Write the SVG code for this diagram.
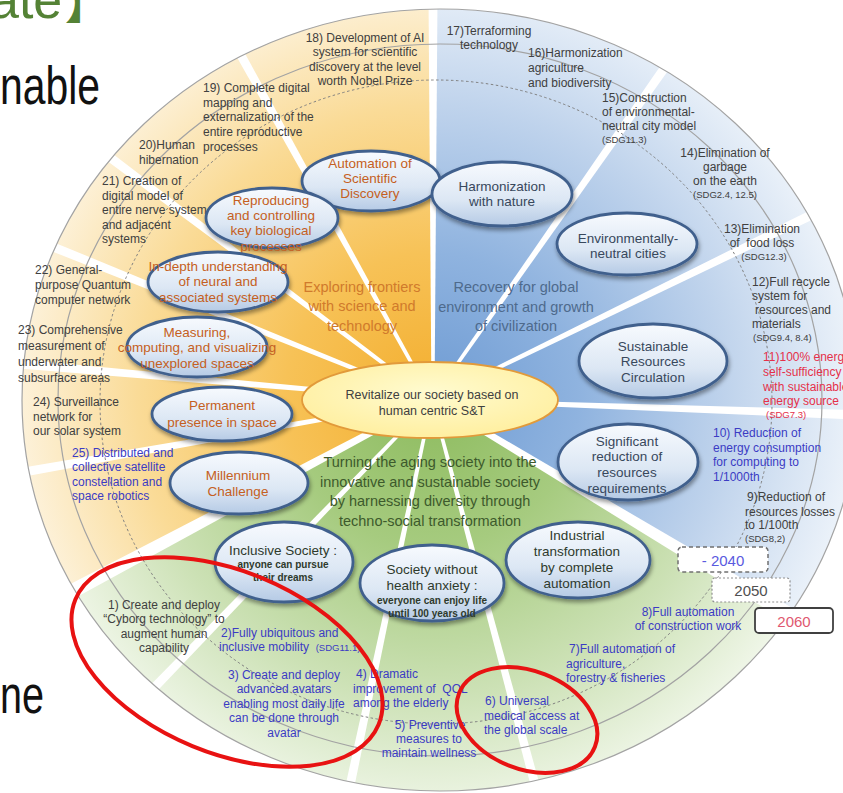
<svg xmlns="http://www.w3.org/2000/svg" width="843" height="793" viewBox="0 0 843 793">
<defs>
<style>
text{font-family:"Liberation Sans",Arial,sans-serif;}
.it{font-size:12px;fill:#404040;}
.bl{font-size:12px;fill:#3B3BC4;}
.rd{font-size:12px;fill:#E5304A;}
.sdg{font-size:9.5px;}
.c{text-anchor:middle;}
.nd{fill:url(#nodeGrad);stroke:#41608D;stroke-width:2.8;filter:url(#sh);}
.ny{font-size:13.5px;fill:#C55F22;text-anchor:middle;}
.nb{font-size:13.5px;fill:#38485C;text-anchor:middle;}
.ng{font-size:13.5px;fill:#2E3A2C;text-anchor:middle;}
.ns{font-size:10px;font-weight:bold;fill:#2E3A2C;text-anchor:middle;}
.lab{font-size:14.5px;text-anchor:middle;}
.ring{fill:none;stroke:#A3A3A3;stroke-width:1.2;}
.ray{fill:#FFFFFF;}
.redmark{fill:none;stroke:#E81212;stroke-width:4;}
.big{font-size:54px;fill:#111;}
</style>
<radialGradient id="gY" gradientUnits="userSpaceOnUse" cx="432" cy="400" r="420">
<stop offset="0" stop-color="#F3AE2E"/><stop offset="0.35" stop-color="#F7C257"/><stop offset="0.7" stop-color="#FADB97"/><stop offset="1" stop-color="#FDF3DE"/>
</radialGradient>
<radialGradient id="gB" gradientUnits="userSpaceOnUse" cx="432" cy="400" r="420">
<stop offset="0" stop-color="#6E9BD3"/><stop offset="0.35" stop-color="#8FB3DF"/><stop offset="0.7" stop-color="#BFD3EC"/><stop offset="1" stop-color="#EAF1F9"/>
</radialGradient>
<radialGradient id="gG" gradientUnits="userSpaceOnUse" cx="432" cy="400" r="420">
<stop offset="0" stop-color="#8DBB5E"/><stop offset="0.35" stop-color="#A6CB7F"/><stop offset="0.7" stop-color="#CCE1B5"/><stop offset="1" stop-color="#F1F7EA"/>
</radialGradient>
<linearGradient id="nodeGrad" x1="0" y1="0" x2="0" y2="1">
<stop offset="0" stop-color="#F7FAFE"/><stop offset="0.6" stop-color="#DCE7F4"/><stop offset="1" stop-color="#B5CAE5"/>
</linearGradient>
<radialGradient id="cGrad" cx="0.5" cy="0.4" r="0.6">
<stop offset="0" stop-color="#FFFBD0"/><stop offset="1" stop-color="#FFEFA0"/>
</radialGradient>
<filter id="sh" x="-20%" y="-20%" width="140%" height="170%">
<feDropShadow dx="1" dy="3" stdDeviation="2" flood-color="#000" flood-opacity="0.4"/>
</filter>
<clipPath id="outerClip"><ellipse cx="440" cy="400" rx="418" ry="391"/></clipPath>
<polygon id="ray" points="0,-1.5 470,-5 470,5 0,1.5"/>
<polygon id="rayW" points="0,-2.5 470,-8 470,8 0,2.5"/>
</defs>

<rect width="843" height="793" fill="#FFFFFF"/>

<!-- slide remnants -->
<g id="slide-text">
<text x="-10" y="18" style="font-size:52px;fill:#548235">ate</text>
<text x="65" y="19" style="font-size:44px;font-weight:bold;fill:#548235;font-family:'Noto Sans CJK JP','Liberation Sans',sans-serif">】</text>
<text class="big" x="0" y="104" textLength="100" lengthAdjust="spacingAndGlyphs">nable</text>
<text class="big" x="0" y="713" textLength="44" lengthAdjust="spacingAndGlyphs">ne</text>
</g>

<!-- sectors -->
<g id="sectors" clip-path="url(#outerClip)">
<path fill="url(#gB)" d="M432,400 L432,-60 A460,460 0 0,1 826.3,636.9 Z"/>
<path fill="url(#gG)" d="M432,400 L826.3,636.9 A460,460 0 0,1 25.9,616 Z"/>
<path fill="url(#gY)" d="M432,400 L25.9,616 A460,460 0 0,1 432,-60 Z"/>
</g>

<!-- separators -->
<g id="connectors" clip-path="url(#outerClip)">
<use href="#ray" class="ray" transform="translate(433,400) rotate(-90)"/>
<use href="#ray" class="ray" transform="translate(432,400) rotate(-119)"/>
<use href="#ray" class="ray" transform="translate(432,400) rotate(-143)"/>
<use href="#ray" class="ray" transform="translate(432,400) rotate(-158)"/>
<use href="#ray" class="ray" transform="translate(432,400) rotate(-175)"/>
<use href="#ray" class="ray" transform="translate(432,400) rotate(170)"/>
<use href="#rayW" class="ray" transform="translate(432,400) rotate(152)"/>
<use href="#ray" class="ray" transform="translate(432,400) rotate(-55)"/>
<use href="#ray" class="ray" transform="translate(432,400) rotate(-26)"/>
<use href="#ray" class="ray" transform="translate(432,400) rotate(2)"/>
<use href="#rayW" class="ray" transform="translate(432,400) rotate(31)"/>
<use href="#ray" class="ray" transform="translate(432,400) rotate(75)"/>
<use href="#ray" class="ray" transform="translate(432,400) rotate(102)"/>
<use href="#ray" class="ray" transform="translate(432,400) rotate(134)"/>
</g>

<!-- rings -->
<g id="rings">
<ellipse class="ring" cx="440" cy="400" rx="418" ry="391"/>
<ellipse class="ring" cx="440" cy="400" rx="382" ry="356"/>
<ellipse class="ring" cx="436" cy="402" rx="336" ry="322" style="stroke:#808080;stroke-width:1;stroke-dasharray:2.5,2.5"/>
</g>

<!-- sector labels -->
<g id="label-yellow"><text class="lab" x="362" y="292" fill="#D07A2C">Exploring frontiers<tspan x="362" dy="19">with science and</tspan><tspan x="362" dy="19.5">technology</tspan></text></g>
<g id="label-blue"><text class="lab" x="516" y="292" fill="#4E6A8C">Recovery for global<tspan x="516" dy="19.5">environment and growth</tspan><tspan x="516" dy="19.5">of civilization</tspan></text></g>
<g id="label-green"><text class="lab" x="430" y="467" fill="#3D5A2C">Turning the aging society into the<tspan x="430" dy="19.5">innovative and sustainable society</tspan><tspan x="430" dy="19.5">by harnessing diversity through</tspan><tspan x="430" dy="19.5">techno-social transformation</tspan></text></g>

<!-- outer items -->
<g id="item18"><text class="it c" x="365" y="42">18) Development of AI<tspan x="365" dy="14.3">system for scientific</tspan><tspan x="365" dy="14.3">discovery at the level</tspan><tspan x="365" dy="14.3">worth Nobel Prize</tspan></text></g>
<g id="item19"><text class="it" x="203" y="92">19) Complete digital<tspan x="203" dy="14.7">mapping and</tspan><tspan x="203" dy="14.7">externalization of the</tspan><tspan x="203" dy="14.7">entire reproductive</tspan><tspan x="203" dy="14.7">processes</tspan></text></g>
<g id="item20"><text class="it" x="139" y="149">20)Human<tspan x="139" dy="14.5">hibernation</tspan></text></g>
<g id="item21"><text class="it" x="102" y="185">21) Creation of<tspan x="102" dy="14.6">digital model of</tspan><tspan x="102" dy="14.6">entire nerve system</tspan><tspan x="102" dy="14.6">and adjacent</tspan><tspan x="102" dy="14.6">systems</tspan></text></g>
<g id="item22"><text class="it" x="35" y="274">22) General-<tspan x="35" dy="15">purpose Quantum</tspan><tspan x="35" dy="15">computer network</tspan></text></g>
<g id="item23"><text class="it" x="18" y="334">23) Comprehensive<tspan x="18" dy="16">measurement of</tspan><tspan x="18" dy="16">underwater and</tspan><tspan x="18" dy="16">subsurface areas</tspan></text></g>
<g id="item24"><text class="it" x="33" y="406">24) Surveillance<tspan x="33" dy="14.6">network for</tspan><tspan x="33" dy="14.6">our solar system</tspan></text></g>
<g id="item25"><text class="bl" x="72" y="457">25) Distributed and<tspan x="72" dy="14.4">collective satellite</tspan><tspan x="72" dy="14.4">constellation and</tspan><tspan x="72" dy="14.4">space robotics</tspan></text></g>

<g id="item17"><text class="it c" x="489" y="35">17)Terraforming<tspan x="489" dy="14">technology</tspan></text></g>
<g id="item16"><text class="it" x="528" y="57">16)Harmonization<tspan x="528" dy="15">agriculture</tspan><tspan x="528" dy="15">and biodiversity</tspan></text></g>
<g id="item15"><text class="it" x="602" y="102">15)Construction<tspan x="602" dy="14">of environmental-</tspan><tspan x="602" dy="14">neutral city model</tspan><tspan x="602" dy="12.5" class="sdg">(SDG11.3)</tspan></text></g>
<g id="item14"><text class="it c" x="725" y="157">14)Elimination of<tspan x="725" dy="14">garbage</tspan><tspan x="725" dy="14">on the earth</tspan><tspan x="725" dy="12.5" class="sdg">(SDG2.4, 12.5)</tspan></text></g>
<g id="item13"><text class="it c" x="762" y="233">13)Elimination<tspan x="762" dy="14">of&#160; food loss</tspan><tspan x="764" dy="13" class="sdg">(SDG12.3)</tspan></text></g>
<g id="item12"><text class="it" x="752" y="286">12)Full recycle<tspan x="752" dy="14">system for</tspan><tspan x="755" dy="14">resources and</tspan><tspan x="752" dy="14">materials</tspan><tspan x="753" dy="13" class="sdg">(SDG9.4, 8.4)</tspan></text></g>
<g id="item11"><text class="rd" x="763" y="361">11)100% energy<tspan x="763" dy="15.3">self-sufficiency</tspan><tspan x="763" dy="14.3">with sustainable</tspan><tspan x="763" dy="14.3">energy source</tspan><tspan x="766" dy="13.5" class="sdg">(SDG7.3)</tspan></text></g>
<g id="item10"><text class="bl" x="713" y="437">10) Reduction of<tspan x="713" dy="14.7">energy consumption</tspan><tspan x="713" dy="14.7">for computing to</tspan><tspan x="713" dy="14.7">1/1000th</tspan></text></g>
<g id="item9"><text class="it" x="747" y="501">9)Reduction of<tspan x="745" dy="14.7">resources losses</tspan><tspan x="745" dy="13.5">to 1/100th</tspan><tspan x="745" dy="12.5" class="sdg">(SDG8,2)</tspan></text></g>

<g id="item8"><text class="bl c" x="688" y="616">8)Full automation<tspan x="688" dy="14">of construction work</tspan></text></g>
<g id="item7"><text class="bl" x="569" y="653">7)Full automation of<tspan x="566" dy="14.5">agriculture,</tspan><tspan x="566" dy="14.5">forestry &amp; fisheries</tspan></text></g>
<g id="item6"><text class="bl" x="485" y="705">6) Universal<tspan x="484" dy="14.5">medical access at</tspan><tspan x="484" dy="14">the global scale</tspan></text></g>
<g id="item5"><text class="bl c" x="430" y="729">5) Preventive<tspan x="429" dy="14">measures to</tspan><tspan x="429" dy="14">maintain wellness</tspan></text></g>
<g id="item4"><text class="bl" x="356" y="678">4) Dramatic<tspan x="353" dy="14.5">improvement of&#160; QOL</tspan><tspan x="353" dy="14.5">among the elderly</tspan></text></g>
<g id="item3"><text class="bl c" x="284" y="679">3) Create and deploy<tspan x="284" dy="14.4">advanced avatars</tspan><tspan x="284" dy="14.4">enabling most daily life</tspan><tspan x="284" dy="14.4">can be done through</tspan><tspan x="284" dy="14.4">avatar</tspan></text></g>
<g id="item2"><text class="bl" x="221" y="637">2)Fully ubiquitous and<tspan x="219" dy="14">inclusive mobility&#160; </tspan><tspan class="sdg">(SDG11.1)</tspan></text></g>
<g id="item1"><text class="it c" x="164" y="609">1) Create and deploy<tspan x="164" dy="14.3">“Cyborg technology” to</tspan><tspan x="164" dy="14.3">augment human</tspan><tspan x="164" dy="14.3">capability</tspan></text></g>

<!-- nodes: yellow -->
<g id="n-automation"><ellipse class="nd" cx="371" cy="181" rx="69" ry="30"/><text class="ny" x="370" y="168">Automation of<tspan x="370" dy="15">Scientific</tspan><tspan x="370" dy="15">Discovery</tspan></text></g>
<g id="n-reproducing"><ellipse class="nd" cx="272" cy="218" rx="66" ry="30"/><text class="ny" x="271" y="205">Reproducing<tspan x="271" dy="15">and controlling</tspan><tspan x="271" dy="15">key biological</tspan><tspan x="271" dy="15.5">processes</tspan></text></g>
<g id="n-indepth"><ellipse class="nd" cx="218" cy="282" rx="70" ry="30"/><text class="ny" x="218" y="271">In-depth understanding<tspan x="218" dy="15">of neural and</tspan><tspan x="218" dy="16">associated systems</tspan></text></g>
<g id="n-measuring"><ellipse class="nd" cx="197" cy="347" rx="70" ry="30"/><text class="ny" x="197" y="337">Measuring,<tspan x="197" dy="15">computing, and visualizing</tspan><tspan x="197" dy="16">unexplored spaces</tspan></text></g>
<g id="n-permanent"><ellipse class="nd" cx="222" cy="414" rx="70" ry="27"/><text class="ny" x="222" y="410">Permanent<tspan x="222" dy="16.5">presence in space</tspan></text></g>
<g id="n-millennium"><ellipse class="nd" cx="239" cy="483" rx="69" ry="31"/><text class="ny" x="238" y="480">Millennium<tspan x="238" dy="15.5">Challenge</tspan></text></g>

<!-- nodes: blue -->
<g id="n-harmonization"><ellipse class="nd" cx="502" cy="194" rx="70" ry="32"/><text class="nb" x="502" y="191">Harmonization<tspan x="502" dy="15">with nature</tspan></text></g>
<g id="n-envneutral"><ellipse class="nd" cx="627" cy="244" rx="70" ry="31"/><text class="nb" x="628" y="243">Environmentally-<tspan x="628" dy="15">neutral cities</tspan></text></g>
<g id="n-sustainable"><ellipse class="nd" cx="653" cy="361" rx="74" ry="37"/><text class="nb" x="653" y="351">Sustainable<tspan x="653" dy="15">Resources</tspan><tspan x="653" dy="15.5">Circulation</tspan></text></g>
<g id="n-significant"><ellipse class="nd" cx="628" cy="462" rx="70" ry="38"/><text class="nb" x="627" y="446">Significant<tspan x="627" dy="15.3">reduction of</tspan><tspan x="627" dy="15.7">resources</tspan><tspan x="627" dy="16">requirements</tspan></text></g>

<!-- nodes: green -->
<g id="n-industrial"><ellipse class="nd" cx="578" cy="560" rx="72" ry="38"/><text class="ng" x="577" y="540">Industrial<tspan x="577" dy="16">transformation</tspan><tspan x="577" dy="16">by complete</tspan><tspan x="577" dy="15.5">automation</tspan></text></g>
<g id="n-health"><ellipse class="nd" cx="432" cy="583" rx="72" ry="38"/><text class="ng" x="432" y="574">Society without<tspan x="432" dy="15.5">health anxiety :</tspan></text><text class="ns" x="432" y="604">everyone can enjoy life<tspan x="432" dy="13">until 100 years old</tspan></text></g>
<g id="n-inclusive"><ellipse class="nd" cx="284" cy="562" rx="69" ry="40"/><text class="ng" x="283" y="555">Inclusive Society :</text><text class="ns" x="283" y="568">anyone can pursue<tspan x="283" dy="13">their dreams</tspan></text></g>

<!-- center -->
<g id="n-center"><ellipse cx="430" cy="400" rx="128" ry="38" fill="url(#cGrad)" stroke="#E29A3A" stroke-width="1.8"/><text x="432" y="399" style="font-size:12.5px;fill:#404040;text-anchor:middle">Revitalize our society based on<tspan x="432" dy="16">human centric S&amp;T</tspan></text></g>

<!-- year boxes -->
<g id="y2040"><rect x="678" y="547" width="90" height="25" rx="4" fill="#FFFFFF" stroke="#707070" stroke-width="1.5" stroke-dasharray="4,3"/><text x="723" y="566" style="font-size:15px;fill:#5A5AE0;text-anchor:middle">- 2040</text></g>
<g id="y2050"><rect x="712" y="578" width="78" height="24" rx="3" fill="#FFFFFF" stroke="#909090" stroke-width="1.2" stroke-dasharray="2,2"/><text x="751" y="596" style="font-size:15px;fill:#505050;text-anchor:middle">2050</text></g>
<g id="y2060"><rect x="755" y="608" width="78" height="25" rx="4" fill="#FFFFFF" stroke="#404040" stroke-width="1.8"/><text x="794" y="627" style="font-size:15px;fill:#E05870;text-anchor:middle">2060</text></g>

<!-- red highlight marks -->
<g id="red-marks">
<ellipse class="redmark" cx="227" cy="662" rx="164" ry="91" transform="rotate(22.4 227 662)"/>
<ellipse class="redmark" cx="527" cy="720" rx="73" ry="49" transform="rotate(21.5 527 720)"/>
</g>
</svg>
